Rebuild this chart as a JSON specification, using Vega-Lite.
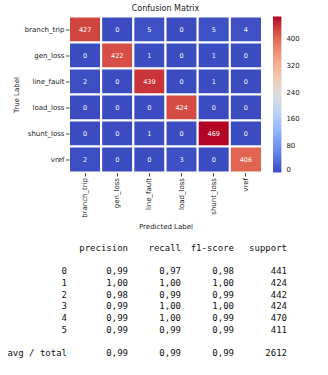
{
  "$schema": "https://vega.github.io/schema/vega-lite/v6.json",
  "width": 193,
  "height": 156,
  "autosize": {"type": "none"},
  "padding": {"left": 69, "top": 16.5, "right": 66, "bottom": 202.5},
  "background": "white",
  "config": {"view": {"stroke": null}, "font": "DejaVu Sans"},
  "title": {"text": "Confusion Matrix", "fontSize": 8, "fontWeight": "normal", "font": "DejaVu Sans", "color": "#222222", "offset": 3, "anchor": "middle", "frame": "group"},
  "datasets": {
    "cm": [
      {"true": "branch_trip", "pred": "branch_trip", "n": 427},
      {"true": "branch_trip", "pred": "gen_loss", "n": 0},
      {"true": "branch_trip", "pred": "line_fault", "n": 5},
      {"true": "branch_trip", "pred": "load_loss", "n": 0},
      {"true": "branch_trip", "pred": "shunt_loss", "n": 5},
      {"true": "branch_trip", "pred": "vref", "n": 4},
      {"true": "gen_loss", "pred": "branch_trip", "n": 0},
      {"true": "gen_loss", "pred": "gen_loss", "n": 422},
      {"true": "gen_loss", "pred": "line_fault", "n": 1},
      {"true": "gen_loss", "pred": "load_loss", "n": 0},
      {"true": "gen_loss", "pred": "shunt_loss", "n": 1},
      {"true": "gen_loss", "pred": "vref", "n": 0},
      {"true": "line_fault", "pred": "branch_trip", "n": 2},
      {"true": "line_fault", "pred": "gen_loss", "n": 0},
      {"true": "line_fault", "pred": "line_fault", "n": 439},
      {"true": "line_fault", "pred": "load_loss", "n": 0},
      {"true": "line_fault", "pred": "shunt_loss", "n": 1},
      {"true": "line_fault", "pred": "vref", "n": 0},
      {"true": "load_loss", "pred": "branch_trip", "n": 0},
      {"true": "load_loss", "pred": "gen_loss", "n": 0},
      {"true": "load_loss", "pred": "line_fault", "n": 0},
      {"true": "load_loss", "pred": "load_loss", "n": 424},
      {"true": "load_loss", "pred": "shunt_loss", "n": 0},
      {"true": "load_loss", "pred": "vref", "n": 0},
      {"true": "shunt_loss", "pred": "branch_trip", "n": 0},
      {"true": "shunt_loss", "pred": "gen_loss", "n": 0},
      {"true": "shunt_loss", "pred": "line_fault", "n": 1},
      {"true": "shunt_loss", "pred": "load_loss", "n": 0},
      {"true": "shunt_loss", "pred": "shunt_loss", "n": 469},
      {"true": "shunt_loss", "pred": "vref", "n": 0},
      {"true": "vref", "pred": "branch_trip", "n": 2},
      {"true": "vref", "pred": "gen_loss", "n": 0},
      {"true": "vref", "pred": "line_fault", "n": 0},
      {"true": "vref", "pred": "load_loss", "n": 3},
      {"true": "vref", "pred": "shunt_loss", "n": 0},
      {"true": "vref", "pred": "vref", "n": 406}
    ],
    "report": [
      {"label": "0", "precision": "0,99", "recall": "0,97", "f1-score": "0,98", "support": "441"},
      {"label": "1", "precision": "1,00", "recall": "1,00", "f1-score": "1,00", "support": "424"},
      {"label": "2", "precision": "0,98", "recall": "0,99", "f1-score": "0,99", "support": "442"},
      {"label": "3", "precision": "0,99", "recall": "1,00", "f1-score": "1,00", "support": "424"},
      {"label": "4", "precision": "0,99", "recall": "1,00", "f1-score": "0,99", "support": "470"},
      {"label": "5", "precision": "0,99", "recall": "0,99", "f1-score": "0,99", "support": "411"},
      {"label": "avg / total", "precision": "0,99", "recall": "0,99", "f1-score": "0,99", "support": "2612"}
    ]
  },
  "layer": [
    {
      "data": {"name": "cm"},
      "encoding": {
        "x": {
          "field": "pred", "type": "nominal",
          "sort": ["branch_trip", "gen_loss", "line_fault", "load_loss", "shunt_loss", "vref"],
          "scale": {"paddingInner": 0, "paddingOuter": 0},
          "title": "Predicted Label",
          "axis": {"labelAngle": 270, "labelFontSize": 7, "labelFont": "DejaVu Sans", "tickSize": 3.5, "labelPadding": 1.5, "domain": false, "grid": false, "titleFontSize": 7, "titleFont": "DejaVu Sans", "titleFontWeight": "normal", "titlePadding": 5, "labelColor": "#222222", "tickColor": "#444444", "titleColor": "#222222"}
        },
        "y": {
          "field": "true", "type": "nominal",
          "sort": ["branch_trip", "gen_loss", "line_fault", "load_loss", "shunt_loss", "vref"],
          "scale": {"paddingInner": 0, "paddingOuter": 0},
          "title": "True Label",
          "axis": {"labelFontSize": 7, "labelFont": "DejaVu Sans", "tickSize": 3.5, "labelPadding": 1.5, "domain": false, "grid": false, "titleFontSize": 7, "titleFont": "DejaVu Sans", "titleFontWeight": "normal", "titlePadding": 5, "labelColor": "#222222", "tickColor": "#444444", "titleColor": "#222222"}
        }
      },
      "layer": [
        {
          "mark": {"type": "rect", "stroke": "white", "strokeWidth": 2},
          "encoding": {
            "color": {
              "field": "n", "type": "quantitative",
              "scale": {
                "domain": [0, 58.625, 117.25, 175.875, 234.5, 293.125, 351.75, 410.375, 469],
                "range": ["#3b4cc0", "#6282ea", "#8db0fe", "#b8d0f9", "#dddddd", "#f5c4ad", "#f49a7b", "#de604d", "#b40426"],
                "interpolate": "rgb"
              },
              "legend": {
                "title": null, "orient": "right", "offset": 11.3, "padding": 0,
                "gradientLength": 156, "gradientThickness": 8.4, "gradientStrokeWidth": 0,
                "values": [0, 80, 160, 240, 320, 400],
                "labelFontSize": 7, "labelFont": "DejaVu Sans", "labelColor": "#222222",
                "labelOffset": 5, "labelFlush": false, "labelOverlap": false
              }
            }
          }
        },
        {
          "mark": {"type": "text", "color": "white", "fontSize": 6.5, "font": "DejaVu Sans"},
          "encoding": {"text": {"field": "n", "type": "quantitative"}}
        }
      ]
    },
    {
      "data": {"name": "report"},
      "layer": [
        {
          "transform": [{"fold": ["precision", "recall", "f1-score", "support"], "as": ["col", "val"]}],
          "mark": {"type": "text", "align": "right", "baseline": "middle", "font": "DejaVu Sans Mono", "fontSize": 9, "color": "#111111"},
          "encoding": {
            "x": {"field": "col", "type": "nominal", "axis": null, "scale": {"type": "point", "domain": ["label", "precision", "recall", "f1-score", "support"], "range": [6, 218], "padding": 0}},
            "y": {"field": "label", "type": "nominal", "axis": null, "scale": {"type": "point", "domain": ["header", "_b1", "0", "1", "2", "3", "4", "5", "_b2", "avg / total"], "range": [231.5, 336.5], "padding": 0}},
            "text": {"field": "val", "type": "nominal"}
          }
        },
        {
          "mark": {"type": "text", "align": "right", "baseline": "middle", "font": "DejaVu Sans Mono", "fontSize": 9, "color": "#111111", "dx": -8},
          "encoding": {
            "x": {"datum": "label", "type": "nominal", "axis": null, "scale": {"type": "point", "domain": ["label", "precision", "recall", "f1-score", "support"], "range": [6, 218], "padding": 0}},
            "y": {"field": "label", "type": "nominal", "axis": null, "scale": {"type": "point", "domain": ["header", "_b1", "0", "1", "2", "3", "4", "5", "_b2", "avg / total"], "range": [231.5, 336.5], "padding": 0}},
            "text": {"field": "label", "type": "nominal"}
          }
        },
        {
          "transform": [{"filter": "datum.label === '0'"}, {"fold": ["precision", "recall", "f1-score", "support"], "as": ["col", "val"]}],
          "mark": {"type": "text", "align": "right", "baseline": "middle", "font": "DejaVu Sans Mono", "fontSize": 9, "color": "#111111"},
          "encoding": {
            "x": {"field": "col", "type": "nominal", "axis": null, "scale": {"type": "point", "domain": ["label", "precision", "recall", "f1-score", "support"], "range": [6, 218], "padding": 0}},
            "y": {"datum": "header", "type": "nominal", "axis": null, "scale": {"type": "point", "domain": ["header", "_b1", "0", "1", "2", "3", "4", "5", "_b2", "avg / total"], "range": [231.5, 336.5], "padding": 0}},
            "text": {"field": "col", "type": "nominal"}
          }
        }
      ]
    }
  ],
  "resolve": {"scale": {"x": "independent", "y": "independent"}, "axis": {"x": "independent", "y": "independent"}}
}
